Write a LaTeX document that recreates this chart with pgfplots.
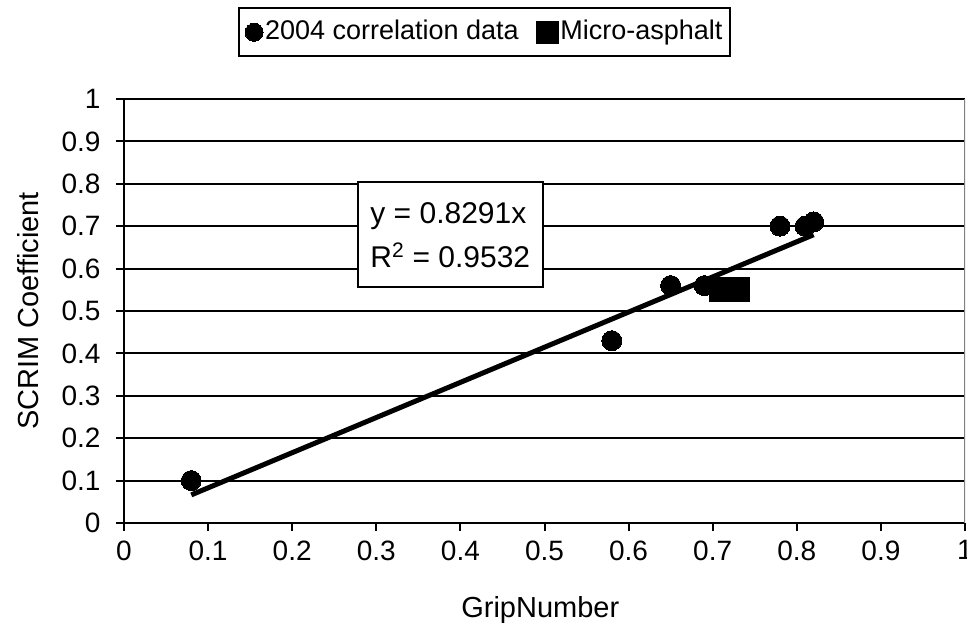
\documentclass[border=0pt]{standalone}
\usepackage{fontspec}
\setmainfont{Liberation Sans}
\usepackage{pgfplots}
\pgfplotsset{compat=1.18}
\newcommand{\tickf}{\fontsize{28}{33}\selectfont}
\newcommand{\labf}{\fontsize{29}{35}\selectfont}
\newcommand{\legf}{\fontsize{27}{32}\selectfont}
\begin{document}
\tickf
\begin{tikzpicture}[x=1pt,y=1pt]
\begin{axis}[
  at={(124pt,114pt)}, anchor=south west,
  scale only axis, width=841pt, height=424pt,
  xmin=0, xmax=1, ymin=0, ymax=1,
  xtick={0,0.1,0.2,0.3,0.4,0.5,0.6,0.7,0.8,0.9,1},
  ytick={0,0.1,0.2,0.3,0.4,0.5,0.6,0.7,0.8,0.9,1},
  xticklabels={0,0.1,0.2,0.3,0.4,0.5,0.6,0.7,0.8,0.9,1},
  yticklabels={0,0.1,0.2,0.3,0.4,0.5,0.6,0.7,0.8,0.9,1},
  axis x line*=bottom, axis y line*=left,
  axis line style={line width=2pt,-},
  ymajorgrids, grid style={black,line width=2pt},
  tick style={black,line width=2pt}, tick align=outside, major tick length=8pt,
  /pgf/number format/assume math mode=true,
  xticklabel style={font=\tickf, yshift=0pt},
  yticklabel style={font=\tickf, xshift=-6pt},
  label style={font=\labf},
  xlabel={GripNumber}, ylabel={SCRIM Coefficient},
  xlabel style={at={(axis description cs:0.495,-0.205)},anchor=center},
  ylabel style={at={(axis description cs:-0.114,0.5)},anchor=center},
  legend style={at={(axis description cs:0.429,1.216)}, anchor=north, draw=black, line width=2pt,
    font=\legf, inner xsep=6pt, inner ysep=10pt,
    /tikz/every even column/.append style={column sep=16pt}},
  legend image post style={scale=0.9},
  legend columns=2, legend cell align=left,
]
\addplot[only marks, mark=*, mark size=10pt, black, mark options={line width=0pt}] coordinates {
  (0.08,0.10) (0.58,0.43) (0.65,0.56) (0.69,0.56) (0.78,0.70) (0.81,0.70) (0.82,0.71)};
\addlegendentry{2004 correlation data}
\addplot[only marks, mark=square*, mark size=12pt, black, mark options={line width=0pt}] coordinates {
  (0.71,0.55) (0.73,0.55)};
\addlegendentry{Micro-asphalt}
\addplot[black, line width=5pt, no marks, forget plot] coordinates {(0.08,0.0663) (0.82,0.6799)};
\draw[gray, line width=2pt] (rel axis cs:1,0) -- (rel axis cs:1,1);
\node[draw=black, line width=2pt, fill=white, minimum width=185pt, minimum height=105pt,
  align=left, font=\fontsize{30}{44}\selectfont, inner sep=4pt] at (axis cs:0.388,0.680)
  {y = 0.8291x\\R\textsuperscript{2} = 0.9532};
\end{axis}
\pgfresetboundingbox
\path[use as bounding box] (0,0) rectangle (967pt,637pt);
\end{tikzpicture}
\end{document}
